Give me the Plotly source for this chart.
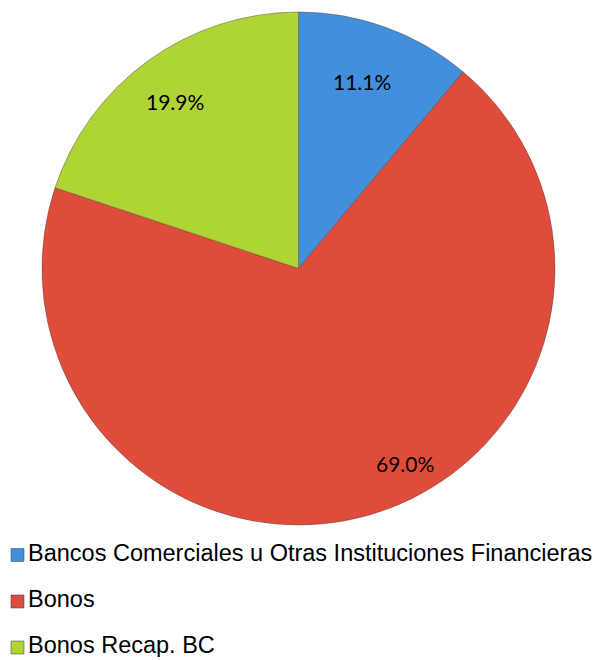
import math
import plotly.graph_objects as go

# Composition by holder
categories = ["Bancos Comerciales u Otras Instituciones Financieras", "Bonos", "Bonos Recap. BC"]
shares = [11.1, 69.0, 19.9]
colors = ["#438FDC", "#E04C3C", "#AED435"]
label_texts = ["11.1%", "69.0%", "19.9%"]

W, H = 605, 660
CX, CY, R = 298.5, 268.5, 256.5   # pie centre and radius in pixels

# where each percentage sits inside its slice (fraction of slice sweep, fraction of radius)
label_sweep = [0.47, 0.448, 0.49]
label_radius = [0.77, 0.865, 0.81]

fig = go.Figure()
fig.add_trace(go.Pie(
    labels=categories,
    values=shares,
    sort=False,
    direction="clockwise",
    rotation=0,
    marker=dict(colors=colors, line=dict(color="rgba(90,60,50,0.45)", width=1)),
    textinfo="none",
    hoverinfo="label+percent",
    showlegend=False,
    domain=dict(x=[(CX - R) / W, (CX + R) / W], y=[1 - (CY + R) / H, 1 - (CY - R) / H]),
))

annotations = []
total = sum(shares)
start = 0.0
for v, txt, fs, fr in zip(shares, label_texts, label_sweep, label_radius):
    sweep = v / total * 360.0
    theta = math.radians(start + fs * sweep)
    px = CX + fr * R * math.sin(theta)
    py = CY - fr * R * math.cos(theta)
    annotations.append(dict(
        x=px / W, y=1 - py / H, xref="paper", yref="paper",
        text=txt, showarrow=False,
        font=dict(family="Lato, Carlito, sans-serif", size=21, color="#000000"),
        xanchor="center", yanchor="middle",
    ))
    start += sweep

# legend drawn as a vertical list of swatches
shapes = []
legend_rows = [552.5, 599, 645]
for name, col, yc in zip(categories, colors, legend_rows):
    sq = yc + 2.5
    shapes.append(dict(
        type="rect", xref="paper", yref="paper",
        x0=11 / W, x1=24 / W, y0=1 - (sq + 6.5) / H, y1=1 - (sq - 6.5) / H,
        fillcolor=col, line=dict(color="rgba(60,60,60,0.5)", width=1),
    ))
    annotations.append(dict(
        x=26 / W, y=1 - yc / H, xref="paper", yref="paper",
        text=name, showarrow=False, height=24, valign="middle",
        font=dict(family="Liberation Sans, Arial, sans-serif", size=23.5, color="#000000"),
        xanchor="left", yanchor="middle",
    ))

fig.update_layout(
    width=W, height=H,
    margin=dict(l=0, r=0, t=0, b=0),
    paper_bgcolor="white",
    plot_bgcolor="white",
    annotations=annotations,
    shapes=shapes,
)

fig.write_html("out.html")
